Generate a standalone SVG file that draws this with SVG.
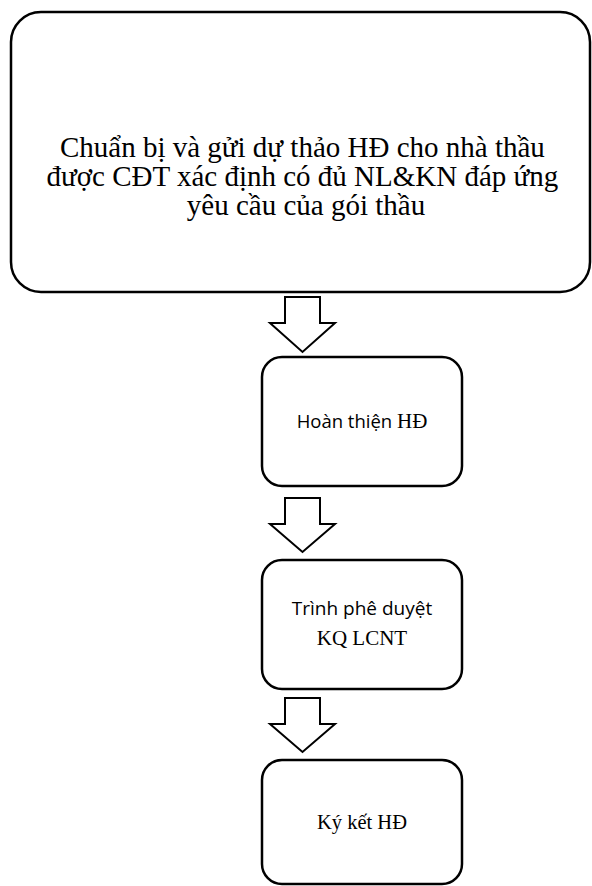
<svg xmlns="http://www.w3.org/2000/svg" width="592" height="886" viewBox="0 0 592 886">
<style>
.box{fill:#fff;stroke:#000;stroke-width:2.5}
.arr{fill:#fff;stroke:#000;stroke-width:2;stroke-linejoin:miter}
.serif{font-family:"Liberation Serif","Times New Roman",serif;fill:#000}
.sans{font-family:"Open Sans","Noto Sans",sans-serif;fill:#000}
</style>
<rect width="592" height="886" fill="#fff"/>
<g id="n1">
<rect class="box" x="11" y="12" width="579" height="280" rx="30"/>
<text class="serif" font-size="29" text-anchor="middle">
<tspan x="306" y="157">Chuẩn bị và gửi dự thảo HĐ cho nhà thầu</tspan>
<tspan x="306" y="186">được CĐT xác định có đủ NL&amp;KN đáp ứng</tspan>
<tspan x="306" y="215">yêu cầu của gói thầu</tspan>
</text>
</g>
<g id="connectors">
<polygon class="arr" points="285,297 320,297 320,323 335,323 302.5,352 270,323 285,323"/>
<polygon class="arr" points="285,498 320,498 320,524 335,524 302.5,552 270,524 285,524"/>
<polygon class="arr" points="285,698 320,698 320,724 335,724 302.5,752 270,724 285,724"/>
</g>
<g id="n2">
<rect class="box" x="262" y="357" width="200" height="129" rx="20"/>
<text font-size="21" text-anchor="middle" x="362" y="428"><tspan class="sans" font-size="18.5">Hoàn thiện </tspan><tspan class="serif">HĐ</tspan></text>
</g>
<g id="n3">
<rect class="box" x="262" y="560" width="200" height="129" rx="20"/>
<text class="sans" font-size="19" text-anchor="middle" x="362" y="615">Trình phê duyệt</text>
<text class="serif" font-size="21" text-anchor="middle" x="362" y="645">KQ LCNT</text>
</g>
<g id="n4">
<rect class="box" x="262" y="760" width="200" height="124" rx="20"/>
<text class="serif" font-size="20.5" text-anchor="middle" x="362" y="829">Ký kết HĐ</text>
</g>
</svg>
